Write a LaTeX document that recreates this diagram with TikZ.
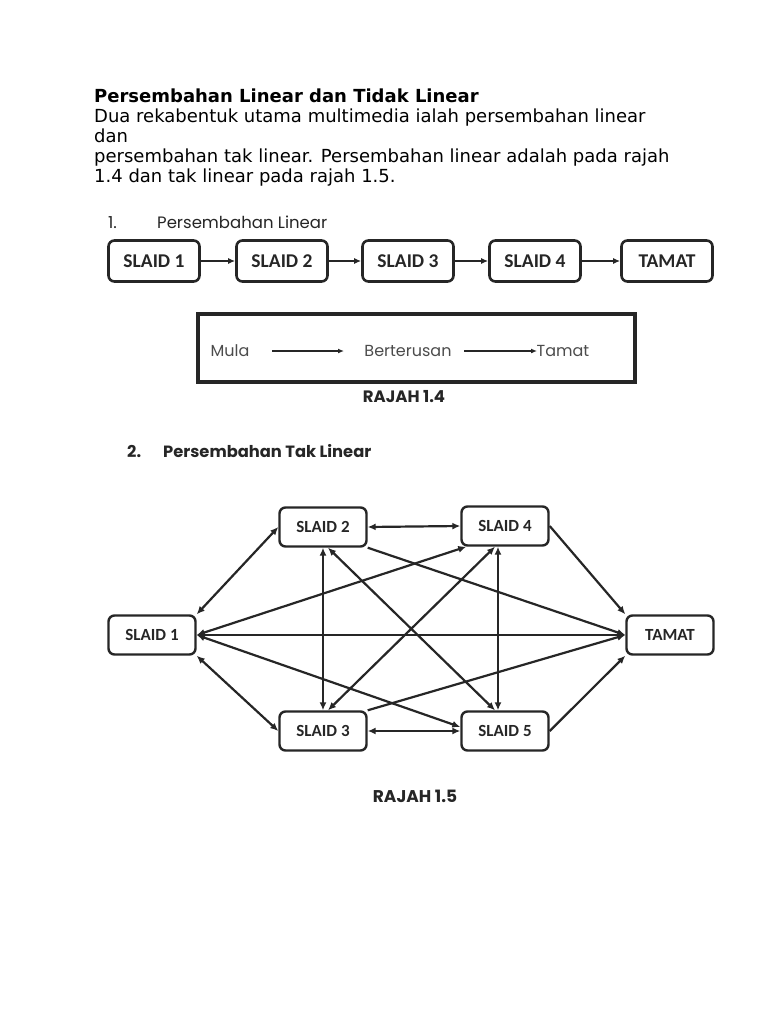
\documentclass[tikz,border=0pt]{standalone}
\usepackage{fontspec}
\setmainfont{DejaVu Sans}
\newfontfamily\gothic{Poppins}
\newfontfamily\cali{Carlito}
\usetikzlibrary{arrows.meta,calc}
\begin{document}
\begin{tikzpicture}[x=1pt,y=-1pt,
  lbox/.style={draw=black!85,line width=2.6pt,rounded corners=6pt,minimum width=91pt,minimum height=41pt,inner sep=0pt,font=\cali\bfseries\fontsize{19.5}{19.5}\selectfont,text=black!85},
  nbox/.style={draw=black!85,line width=2.4pt,rounded corners=6pt,minimum width=87pt,minimum height=39pt,inner sep=0pt,font=\cali\bfseries\fontsize{17}{17}\selectfont,text=black!85},
  larr/.style={draw=black!85,line width=2.2pt,-{Latex[length=7pt,width=6pt]}},
  darr/.style={draw=black!85,line width=2.2pt,{Latex[length=8pt,width=7pt]}-{Latex[length=8pt,width=7pt]}},
  sarr/.style={draw=black!85,line width=2.2pt,-{Latex[length=8pt,width=7pt]}},
  para/.style={anchor=base west,inner sep=0pt,font=\fontsize{18}{20}\selectfont},
  gtxt/.style={inner sep=0pt,font=\gothic\fontsize{16}{16}\selectfont,text=black!70}
]
\useasboundingbox[fill=white] (0,0) rectangle (768,1024);
% header text
\node[para,font=\bfseries\fontsize{18}{20}\selectfont] (t1) at (94,103) {Persembahan Linear dan Tidak Linear};
\node[para] (t2) at (94,123) {Dua rekabentuk utama multimedia ialah persembahan linear};
\node[para] (t3) at (94,143) {dan};
\node[para] (t4) at (94,163) {persembahan tak linear. Persembahan linear adalah pada rajah};
\node[para] (t5) at (94,183) {1.4 dan tak linear pada rajah 1.5.};
% section 1
\node[anchor=base west,inner sep=0pt,font=\gothic\fontsize{16.5}{16.5}\selectfont,text=black!85] (h1n) at (108,229) {1.};
\node[anchor=base west,inner sep=0pt,font=\gothic\fontsize{16.5}{16.5}\selectfont,text=black!85] (h1) at (157,229) {Persembahan Linear};
\node[lbox] (a1) at (154,261) {SLAID 1};
\node[lbox] (a2) at (282,261) {SLAID 2};
\node[lbox] (a3) at (408,261) {SLAID 3};
\node[lbox] (a4) at (535,261) {SLAID 4};
\node[lbox] (a5) at (667,261) {TAMAT};
\draw[larr] (a1) -- (a2);
\draw[larr] (a2) -- (a3);
\draw[larr] (a3) -- (a4);
\draw[larr] (a4) -- (a5);
% rajah 1.4
\draw[line width=3.2pt,black!85] (198,314) rectangle (635,382);
\node[gtxt] (mula) at (230,351) {Mula};
\node[gtxt] (bert) at (408,351) {Berterusan};
\node[gtxt] (tam) at (563,351) {Tamat};
\coordinate (m1) at (272,351); \coordinate (m2) at (344,351);
\coordinate (m3) at (464,351); \coordinate (m4) at (537,351);
\draw[line width=1.5pt,black!85,-{Latex[length=6pt,width=5pt]}] (m1) -- (m2);
\draw[line width=1.5pt,black!85,-{Latex[length=6pt,width=5pt]}] (m3) -- (m4);
\node[inner sep=0pt,font=\gothic\bfseries\fontsize{16.5}{16.5}\selectfont,text=black!85] (r14) at (404,397) {RAJAH 1.4};
% section 2
\node[anchor=base west,inner sep=0pt,font=\gothic\bfseries\fontsize{16.3}{16.3}\selectfont,text=black!85] (h2n) at (127,457) {2.};
\node[anchor=base west,inner sep=0pt,font=\gothic\bfseries\fontsize{16.3}{16.3}\selectfont,text=black!85] (h2) at (163,457) {Persembahan Tak Linear};
% nonlinear
\node[nbox] (s1) at (152,635) {SLAID 1};
\node[nbox] (s2) at (323,527) {SLAID 2};
\node[nbox] (s3) at (323,731) {SLAID 3};
\node[nbox] (s4) at (505,526) {SLAID 4};
\node[nbox] (s5) at (505,731) {SLAID 5};
\node[nbox] (tm) at (670,635) {TAMAT};
\draw[darr] (s1.north east) -- (s2.west);
\draw[darr] (s1.south east) -- (s3.west);
\draw[darr] (s2.east) -- (s4.west);
\draw[darr] (s3.east) -- (s5.west);
\draw[darr] (s2.south) -- (s3.north);
\draw[darr] ([xshift=-7pt]s4.south) -- ([xshift=-7pt]s5.north);
\draw[darr] ([xshift=5pt]s2.south) -- ([xshift=-10pt]s5.north);
\draw[darr] ([xshift=5pt]s3.north) -- ([xshift=-10pt]s4.south);
\draw[darr] (s1.east) -- ([xshift=6pt]s4.south west);
\draw[darr] (s1.east) -- ([yshift=4pt]s5.west);
\draw[darr] (s1.east) -- (tm.west);
\draw[sarr] (s2.south east) -- (tm.west);
\draw[sarr] (s3.north east) -- (tm.west);
\draw[sarr] (s4.east) -- (tm.north west);
\draw[sarr] (s5.east) -- (tm.south west);
\node[inner sep=0pt,font=\gothic\bfseries\fontsize{17}{17}\selectfont,text=black!85] (r15) at (415,796) {RAJAH 1.5};
\end{tikzpicture}
\end{document}
